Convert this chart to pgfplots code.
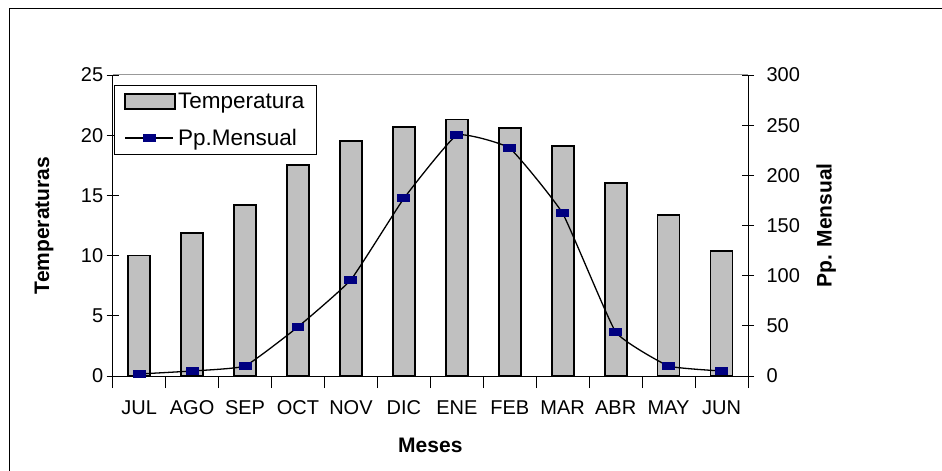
\documentclass[border=0pt]{standalone}
\usepackage{pgfplots}
\pgfplotsset{compat=1.18}
\usepackage{fontspec}
\setmainfont{Liberation Sans}
\definecolor{barGray}{RGB}{192,192,192}
\definecolor{navyM}{RGB}{0,0,128}
\pgfplotsset{longline legend/.style={legend image code/.code={\draw[mark repeat=2,mark phase=2,##1] plot coordinates {(0pt,0pt) (24pt,0pt) (48pt,0pt)};}}}
\pgfplotsset{barbox legend/.style={legend image code/.code={\draw[fill=barGray,draw=black,line width=1.8pt] (0pt,-7.5pt) rectangle (50pt,7.5pt);}}}
\begin{document}
\begin{tikzpicture}[x=1pt,y=1pt]
\useasboundingbox (0,0) rectangle (942,471);
\draw[line width=1pt] (9,0) -- (9,462) -- (942,462);
\pgfplotsset{base/.style={
  scale only axis, width=635.3pt, height=301pt,
  at={(112.7pt,95pt)}, anchor=south west,
  xmin=-0.5, xmax=11.5,
  tick align=center, major tick length=12pt,
  /pgf/number format/assume math mode=true,
  tick style={black, line width=0.8pt},
  axis line style={black, line width=1pt},
  ticklabel style={font=\fontsize{20}{24}\selectfont},
  label style={font=\bfseries\fontsize{21}{25}\selectfont},
}}
\begin{axis}[base,
  ybar, bar width=22pt, bar shift=0pt,
  ymin=0, ymax=25, ytick={0,5,10,15,20,25},
  axis y line*=left, axis x line*=bottom,
  xtick={-0.5,0.5,1.5,2.5,3.5,4.5,5.5,6.5,7.5,8.5,9.5,10.5,11.5},
  xticklabels={},
  extra x ticks={0,1,2,3,4,5,6,7,8,9,10,11},
  extra x tick labels={JUL,AGO,SEP,OCT,NOV,DIC,ENE,FEB,MAR,ABR,MAY,JUN},
  extra x tick style={major tick length=0pt},
  xticklabel style={yshift=-21pt},
  xlabel={Meses},
  xlabel style={at={(axis description cs:0.5,-0.229)}, anchor=center},
  ylabel={Temperaturas},
  ylabel style={at={(axis description cs:-0.108,0.5)}, anchor=center},
]
\draw[gray!80, line width=1pt] (rel axis cs:0,1) -- (rel axis cs:1,1);
\addplot[fill=barGray, draw=black, line width=1.8pt]
  coordinates {(0,10.0) (1,11.9) (2,14.2) (3,17.5) (4,19.5) (5,20.7)
               (6,21.3) (7,20.6) (8,19.1) (9,16.0) (10,13.4) (11,10.4)};
\end{axis}
\begin{axis}[base,
  ymin=0, ymax=300, ytick={0,50,100,150,200,250,300},
  axis y line*=right, axis x line=none,
  yticklabel style={xshift=9pt},
  ylabel={Pp. Mensual},
  ylabel style={at={(axis description cs:1.123,0.5)}, anchor=center},
  legend style={at={(axis description cs:0.002,0.966)}, anchor=north west,
    draw=black, line width=0.8pt, font=\fontsize{22.5}{26}\selectfont,
    row sep=15pt, inner xsep=10pt, inner ysep=5.5pt},
  legend cell align=left,
]
\addlegendimage{barbox legend}
\addlegendentry{Temperatura}
\addplot[black, line width=1.3pt, smooth, tension=0.22, mark=square*, mark size=3.5pt,
  mark options={fill=navyM, draw=navyM, xscale=1.7, line width=0pt},
  longline legend]
  coordinates {(0,2) (1,5) (2,10) (3,49) (4,96) (5,177)
               (6,240) (7,227) (8,162) (9,44) (10,10) (11,5)};
\addlegendentry{Pp.Mensual}
\end{axis}
\end{tikzpicture}
\end{document}
